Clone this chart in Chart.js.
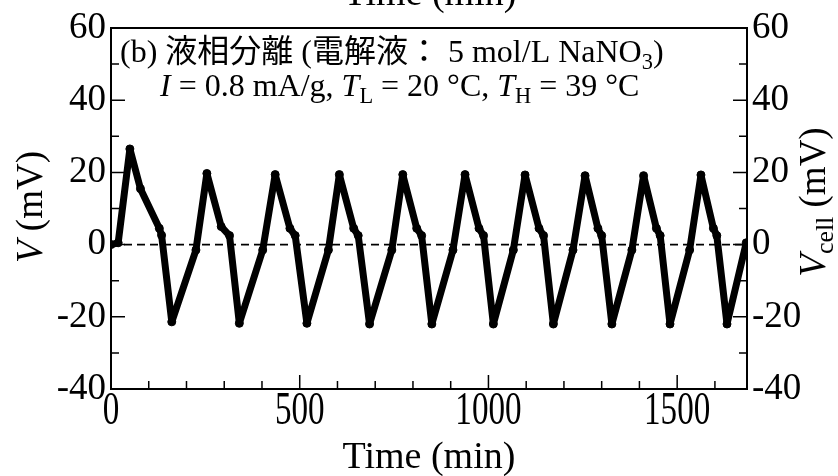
<!DOCTYPE html>
<html><head><meta charset="utf-8">
<script src="https://cdn.jsdelivr.net/npm/chart.js@4/dist/chart.umd.min.js"></script>
<style>html,body{margin:0;padding:0;background:#fff}canvas{display:block}</style>
</head><body>
<canvas id="c" width="838" height="476"></canvas>
<script>
// ---- data ----
const timeMin = [0, 19, 50, 78, 128, 134, 161,
  225, 254, 292, 314, 340,
  402, 435, 474, 488, 519,
  576, 605, 643, 655, 685,
  744, 773, 810, 823, 850,
  906, 938, 975, 987, 1013,
  1066, 1097, 1134, 1146, 1172,
  1224, 1256, 1290, 1300, 1327,
  1380, 1411, 1445, 1455, 1481,
  1533, 1563, 1596, 1605, 1632,
  1683];
const voltage = [0, 0.5, 26.5, 15.5, 4.5, 2.6, -21.4,
  -1.5, 19.7, 5, 2.5, -21.8,
  -1.5, 19.4, 4.5, 2.5, -21.8,
  -1.5, 19.4, 4.5, 2.5, -22,
  -1.5, 19.4, 4.5, 2.5, -22,
  -1.5, 19.4, 4.5, 2.5, -22,
  -1.5, 19.3, 4.5, 2.5, -22,
  -1.5, 19.1, 4.5, 2.5, -22,
  -1.5, 19.1, 4.5, 2.5, -22,
  -1.5, 19.3, 4.5, 2.5, -22,
  0.5];
const yTicks = [-40, -20, 0, 20, 40, 60];
const yMinorTicks = [-30, -10, 10, 30, 50];
const xTicks = [0, 500, 1000, 1500];
const xMinorTicks = [100, 200, 300, 400, 600, 700, 800, 900, 1100, 1200, 1300, 1400, 1600];
const xRange = [0, 1685];
const yRange = [-40, 60];
const xTitle = 'Time (min)';
const yTitleLeft = [{t: 'V', i: true}, {t: ' (mV)'}];
const yTitleRight = [{t: 'V', i: true}, {t: 'cell', sub: true}, {t: ' (mV)'}];
const noteLine1 = [{t: '(b) 液相分離 (電解液： 5 mol/L NaNO'}, {t: '3', sub: true}, {t: ')'}];
const noteLine2 = [{t: 'I', i: true}, {t: ' = 0.8 mA/g, '}, {t: 'T', i: true}, {t: 'L', sub: true},
  {t: ' = 20 °C, '}, {t: 'T', i: true}, {t: 'H', sub: true}, {t: ' = 39 °C'}];

const FAM = '"Liberation Serif", "Noto Sans CJK JP", serif';

function fontFor(r, size) {
  const s = r.sub ? size * 0.7 : size;
  return (r.i ? 'italic ' : '') + s + 'px ' + FAM;
}
function runsWidth(ctx, runs, size) {
  let w = 0;
  for (const r of runs) { ctx.font = fontFor(r, size); w += ctx.measureText(r.t).width; }
  return w;
}
function drawRuns(ctx, x, y, runs, size) {
  ctx.textAlign = 'left';
  ctx.textBaseline = 'alphabetic';
  for (const r of runs) {
    ctx.font = fontFor(r, size);
    ctx.fillText(r.t, x, y + (r.sub ? size * 0.22 : 0));
    x += ctx.measureText(r.t).width;
  }
}

const framePlugin = {
  id: 'frame',
  beforeDatasetsDraw(chart) {
    const {ctx, chartArea: a, scales} = chart;
    const y0 = scales.y.getPixelForValue(0);
    ctx.save();
    ctx.strokeStyle = '#000';
    ctx.lineWidth = 1.6;
    ctx.setLineDash([8, 5]);
    ctx.beginPath();
    ctx.moveTo(a.left, y0);
    ctx.lineTo(a.right, y0);
    ctx.stroke();
    ctx.restore();
  },
  afterDraw(chart) {
    const {ctx, chartArea: a, scales} = chart;
    const xs = scales.x, ys = scales.y;
    ctx.save();
    ctx.strokeStyle = '#000';
    ctx.fillStyle = '#000';
    // frame
    ctx.lineWidth = 2;
    ctx.strokeRect(a.left, a.top, a.right - a.left, a.bottom - a.top);
    // ticks (inward)
    ctx.lineWidth = 1.5;
    ctx.beginPath();
    const major = 14, minor = 8;
    for (const v of yTicks) {
      const p = ys.getPixelForValue(v);
      ctx.moveTo(a.left, p); ctx.lineTo(a.left + major, p);
      ctx.moveTo(a.right, p); ctx.lineTo(a.right - major, p);
    }
    for (const v of yMinorTicks) {
      const p = ys.getPixelForValue(v);
      ctx.moveTo(a.left, p); ctx.lineTo(a.left + minor, p);
      ctx.moveTo(a.right, p); ctx.lineTo(a.right - minor, p);
    }
    for (const v of xTicks) {
      const p = xs.getPixelForValue(v);
      ctx.moveTo(p, a.bottom); ctx.lineTo(p, a.bottom - major);
    }
    for (const v of xMinorTicks) {
      const p = xs.getPixelForValue(v);
      ctx.moveTo(p, a.bottom); ctx.lineTo(p, a.bottom - minor);
    }
    ctx.stroke();
    // x tick labels (narrow tall serif as in the reference)
    ctx.textAlign = 'center';
    ctx.textBaseline = 'alphabetic';
    ctx.font = '46px ' + FAM;
    for (const v of xTicks) {
      const p = xs.getPixelForValue(v);
      ctx.save();
      ctx.translate(p, 424);
      ctx.scale(0.72, 1);
      ctx.fillText(String(v), 0, 0);
      ctx.restore();
    }
    // x titles (bottom and clipped top)
    ctx.font = '38px ' + FAM;
    ctx.fillText(xTitle, 429, 468);
    ctx.fillText(xTitle, 430, 5);
    // y titles (rotated)
    const ts = 37;
    let w = runsWidth(ctx, yTitleLeft, ts);
    ctx.save();
    ctx.translate(31, 207);
    ctx.rotate(-Math.PI / 2);
    drawRuns(ctx, -w / 2, ts * 0.3, yTitleLeft, ts);
    ctx.restore();
    w = runsWidth(ctx, yTitleRight, ts);
    ctx.save();
    ctx.translate(814, 202);
    ctx.rotate(-Math.PI / 2);
    drawRuns(ctx, -w / 2, ts * 0.3, yTitleRight, ts);
    ctx.restore();
    // annotation
    drawRuns(ctx, 120, 62, noteLine1, 32);
    drawRuns(ctx, 160, 96, noteLine2, 32);
    ctx.restore();
  }
};

const points = timeMin.map((t, i) => ({x: t, y: voltage[i]}));
const setTicks = list => s => { s.ticks = list.map(v => ({value: v})); };

new Chart(document.getElementById('c'), {
  type: 'line',
  data: {
    datasets: [{
      data: points,
      borderColor: '#000',
      backgroundColor: '#000',
      borderWidth: 7,
      borderJoinStyle: 'round',
      borderCapStyle: 'round',
      pointRadius: 4,
      pointBorderWidth: 1,
      pointBackgroundColor: '#000',
      pointBorderColor: '#000',
      tension: 0,
      fill: false
    }]
  },
  options: {
    responsive: false,
    animation: false,
    events: [],
    plugins: {legend: {display: false}, tooltip: {enabled: false}},
    layout: {padding: {top: 28, left: 0, right: 0, bottom: 0}},
    scales: {
      x: {
        type: 'linear', min: xRange[0], max: xRange[1],
        afterBuildTicks: setTicks(xTicks),
        ticks: {display: false},
        grid: {display: false, drawTicks: false},
        border: {display: false},
        afterFit: s => { s.height = 87; }
      },
      y: {
        type: 'linear', position: 'left', min: yRange[0], max: yRange[1],
        afterBuildTicks: setTicks(yTicks),
        ticks: {color: '#000', padding: 5, font: {family: FAM, size: 37}},
        grid: {display: false, drawTicks: false},
        border: {display: false},
        afterFit: s => { s.width = 111; }
      },
      y2: {
        type: 'linear', position: 'right', min: yRange[0], max: yRange[1],
        afterBuildTicks: setTicks(yTicks),
        ticks: {color: '#000', padding: 5, font: {family: FAM, size: 37}},
        grid: {display: false, drawTicks: false},
        border: {display: false},
        afterFit: s => { s.width = 91; }
      }
    }
  },
  plugins: [framePlugin]
});
</script>
</body></html>
